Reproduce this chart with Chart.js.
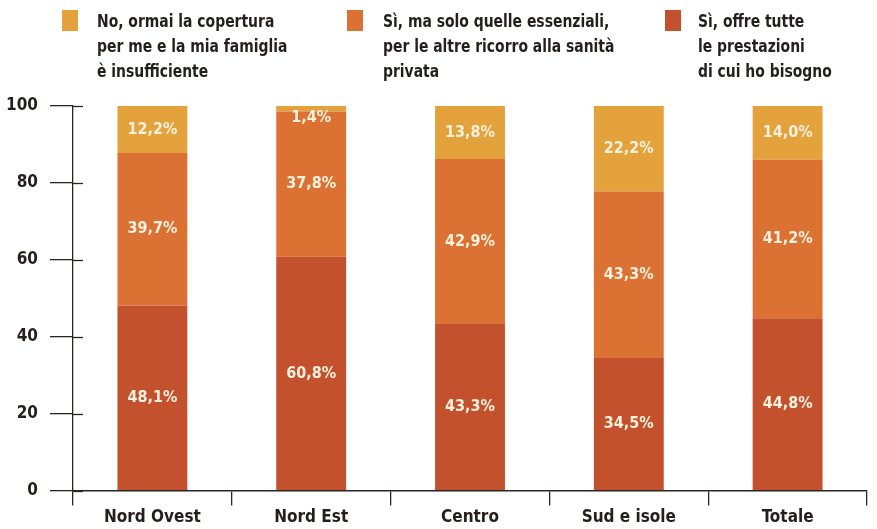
<!DOCTYPE html>
<html lang="it">
<head>
    <meta charset="UTF-8">
    <title>Copertura sanitaria</title>
    <style>
        body {
            margin: 0;
            background: #ffffff;
            font-family: "DejaVu Sans Condensed", "DejaVu Sans", sans-serif;
        }
        #wrap {
            position: relative;
            width: 877px;
            height: 529px;
        }
        #legend {
            position: absolute;
            top: 0;
            left: 0;
            width: 877px;
            height: 95px;
        }
        .swatch {
            position: absolute;
            top: 10px;
            width: 16px;
            height: 21px;
        }
        .text {
            position: absolute;
            top: 8px;
            font-weight: bold;
            font-size: 18px;
            line-height: 25px;
            color: #231f1c;
            white-space: nowrap;
            transform: scaleX(0.86);
            transform-origin: left top;
        }
        #chart {
            position: absolute;
            top: 0;
            left: 0;
        }
    </style>
</head>
<body>
<div id="wrap">
    <canvas id="chart" width="877" height="529"></canvas>
    <div id="legend"></div>
</div>

<script src="https://cdn.jsdelivr.net/npm/chart.js@4/dist/chart.umd.min.js"></script>
<script>

const categories = ["Nord Ovest", "Nord Est", "Centro", "Sud e isole", "Totale"];
const seriesNames = [
    ["No, ormai la copertura", "per me e la mia famiglia", "è insufficiente"],
    ["Sì, ma solo quelle essenziali,", "per le altre ricorro alla sanità", "privata"],
    ["Sì, offre tutte", "le prestazioni", "di cui ho bisogno"]
];
const allNeeds = [48.1, 60.8, 43.3, 34.5, 44.8];
const essentialsOnly = [39.7, 37.8, 42.9, 43.3, 41.2];
const insufficient = [12.2, 1.4, 13.8, 22.2, 14.0];
const yTicks = [0, 20, 40, 60, 80, 100];

const colors = ["#e3a23b", "#dc7134", "#c4512d"];
const swatchX = [62, 347, 665];
const textX = [97, 383, 698];
const FONT = "'DejaVu Sans Condensed', 'DejaVu Sans', sans-serif";

// legend as html, the labels run over three lines
const legendEl = document.getElementById("legend");
seriesNames.forEach((lines, i) => {
    const sw = document.createElement("div");
    sw.className = "swatch";
    sw.style.left = swatchX[i] + "px";
    sw.style.background = colors[i];
    legendEl.appendChild(sw);

    const txt = document.createElement("div");
    txt.className = "text";
    txt.style.left = textX[i] + "px";
    txt.innerHTML = lines.join("<br>");
    legendEl.appendChild(txt);
});

const fmt = v => v.toFixed(1).replace(".", ",") + "%";

// value labels inside the segments
const segmentLabels = {
    id: "segmentLabels",
    afterDatasetsDraw(chart) {
        const ctx = chart.ctx;
        ctx.save();
        ctx.font = "bold 16px " + FONT;
        ctx.fillStyle = "#fbf1dc";
        ctx.textAlign = "center";
        ctx.textBaseline = "middle";
        chart.data.datasets.forEach((ds, di) => {
            chart.getDatasetMeta(di).data.forEach((bar, i) => {
                const h = Math.abs(bar.base - bar.y);
                let y = (bar.y + bar.base) / 2;
                if (h < 20) y = bar.y + 12;
                ctx.fillText(fmt(ds.data[i]), bar.x, y);
            });
        });
        ctx.restore();
    }
};

// short tick stubs right of the y axis
const axisStubs = {
    id: "axisStubs",
    afterDraw(chart) {
        const ctx = chart.ctx;
        const y = chart.scales.y;
        const x0 = chart.chartArea.left;
        ctx.save();
        ctx.strokeStyle = "#2b2522";
        ctx.lineWidth = 1.3;
        yTicks.forEach(t => {
            const py = Math.round(y.getPixelForValue(t)) + 0.5;
            ctx.beginPath();
            ctx.moveTo(x0, py);
            ctx.lineTo(x0 + 10, py);
            ctx.stroke();
        });
        ctx.restore();
    }
};

new Chart(document.getElementById("chart"), {
    type: "bar",
    data: {
        labels: categories,
        datasets: [
            { label: seriesNames[2].join(" "), data: allNeeds, backgroundColor: colors[2] },
            { label: seriesNames[1].join(" "), data: essentialsOnly, backgroundColor: colors[1] },
            { label: seriesNames[0].join(" "), data: insufficient, backgroundColor: colors[0] }
        ]
    },
    options: {
        responsive: false,
        animation: false,
        layout: { padding: { top: 106, left: 0, right: 10, bottom: -1 } },
        datasets: { bar: { barPercentage: 0.88, categoryPercentage: 0.5 } },
        scales: {
            x: {
                stacked: true,
                grid: {
                    offset: true,
                    drawOnChartArea: false,
                    tickLength: 15,
                    color: "#2b2522",
                    lineWidth: 1.3
                },
                border: { color: "#2b2522", width: 1.6 },
                ticks: {
                    padding: 2,
                    color: "#231f1c",
                    font: { family: FONT, size: 17, weight: "bold" }
                }
            },
            y: {
                stacked: true,
                min: 0,
                max: 100,
                afterBuildTicks: axis => { axis.ticks = yTicks.map(v => ({ value: v })); },
                afterFit: axis => { axis.width = 73; },
                grid: {
                    drawOnChartArea: false,
                    tickLength: 23,
                    color: "#2b2522",
                    lineWidth: 1.3
                },
                border: { color: "#2b2522", width: 1.3 },
                ticks: {
                    padding: 12,
                    color: "#231f1c",
                    font: { family: FONT, size: 17, weight: "bold" }
                }
            }
        },
        plugins: {
            legend: { display: false },
            tooltip: { enabled: false }
        }
    },
    plugins: [segmentLabels, axisStubs]
});

</script>
</body>
</html>
